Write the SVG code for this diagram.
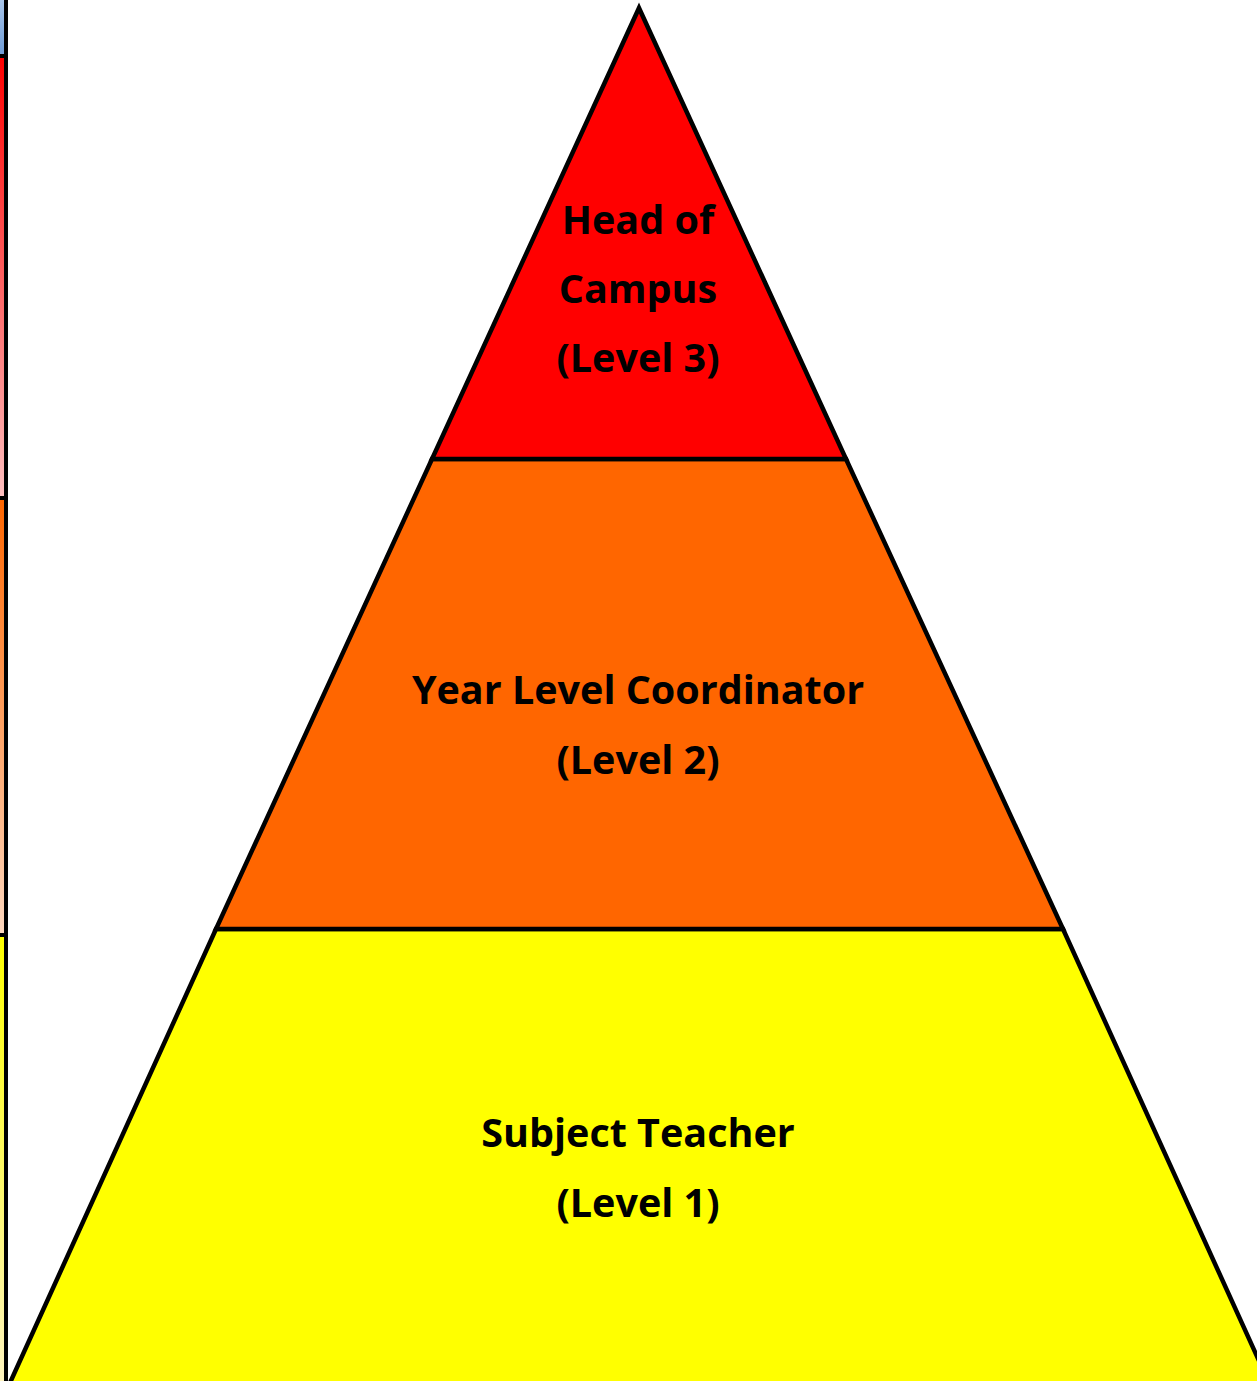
<svg xmlns="http://www.w3.org/2000/svg" width="1257" height="1381" viewBox="0 0 1257 1381">
<defs>
<linearGradient id="gb" x1="0" y1="0" x2="0" y2="1"><stop offset="0" stop-color="#a9c6ea"/><stop offset="1" stop-color="#6e9bd6"/></linearGradient>
<linearGradient id="gr" x1="0" y1="0" x2="0" y2="1"><stop offset="0" stop-color="#ff0000"/><stop offset="1" stop-color="#ffc0c0"/></linearGradient>
<linearGradient id="go" x1="0" y1="0" x2="0" y2="1"><stop offset="0" stop-color="#ff6600"/><stop offset="1" stop-color="#ffd9c0"/></linearGradient>
<linearGradient id="gy" x1="0" y1="0" x2="0" y2="1"><stop offset="0" stop-color="#ffff00"/><stop offset="1" stop-color="#fff5c0"/></linearGradient>
<style>
.lvl{stroke:#000;stroke-width:4.5;stroke-linejoin:miter}
.t{font-family:"Open Sans","Liberation Sans",sans-serif;font-weight:bold;font-size:39.5px;fill:#000;text-anchor:middle}
.bar{stroke:#000;stroke-width:4}
</style>
</defs>
<rect width="1257" height="1381" fill="#fff"/>
<g id="sidebar">
<rect x="0" y="0" width="5" height="56" fill="url(#gb)"/>
<rect x="0" y="56" width="5" height="442" fill="url(#gr)"/>
<rect x="0" y="498" width="5" height="437" fill="url(#go)"/>
<rect x="0" y="935" width="5" height="446" fill="url(#gy)"/>
<line class="bar" x1="6" y1="0" x2="6" y2="1381"/>
<line class="bar" x1="0" y1="56" x2="8" y2="56"/>
<line class="bar" x1="0" y1="498" x2="8" y2="498"/>
<line class="bar" x1="0" y1="935" x2="8" y2="935"/>
</g>
<g id="level1">
<polygon class="lvl" fill="#ffff00" points="216,929 1063,929 1270,1385 9,1385"/>
<text class="t" x="638" y="1147">Subject Teacher</text>
<text class="t" x="638" y="1217">(Level 1)</text>
</g>
<g id="level2">
<polygon class="lvl" fill="#ff6600" points="432,459 846,459 1063,929 216,929"/>
<text class="t" x="638" y="704">Year Level Coordinator</text>
<text class="t" x="638" y="774">(Level 2)</text>
</g>
<g id="level3">
<polygon class="lvl" fill="#ff0000" points="639,8 846,459 432,459"/>
<text class="t" x="638" y="234">Head of</text>
<text class="t" x="638" y="303">Campus</text>
<text class="t" x="638" y="372">(Level 3)</text>
</g>
<g id="connectors"/>
</svg>
